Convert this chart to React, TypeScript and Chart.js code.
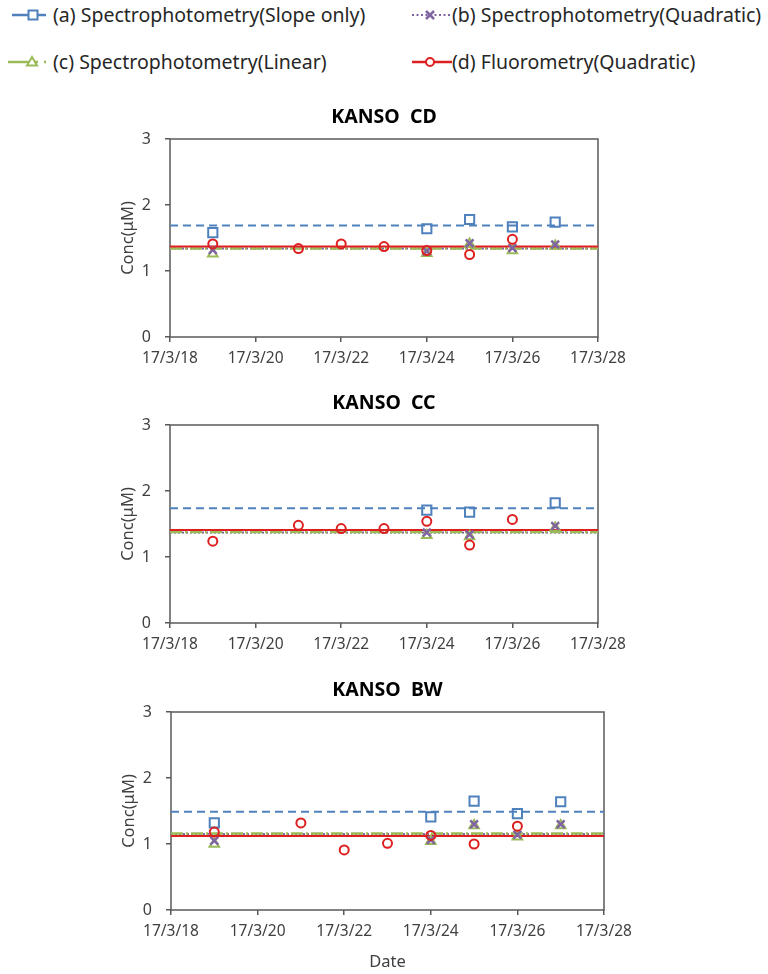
import React, { useEffect, useRef } from 'react';
import { Chart, registerables } from 'chart.js';

Chart.register(...registerables);

const FONT = "'Noto Sans', 'DejaVu Sans', sans-serif";

// ---------- data ----------
const seriesNames = [
  '(a) Spectrophotometry(Slope only)',
  '(b) Spectrophotometry(Quadratic)',
  '(c) Spectrophotometry(Linear)',
  '(d) Fluorometry(Quadratic)',
];
const panelTitles = ['KANSO  CD', 'KANSO  CC', 'KANSO  BW'];
const xMinDay = 18; // 17/3/18
const xMaxDay = 28; // 17/3/28
const xStepDays = 2;
const yMin = 0;
const yMax = 3;
const yLabel = 'Conc(μM)';
const xLabel = 'Date';

const fluoDays = [19, 21, 22, 23, 24, 25, 26];

// KANSO CD
const cdSpecDays = [19, 24, 25, 26, 27];
const cdSlope = [1.58, 1.64, 1.78, 1.67, 1.74];
const cdQuad = [1.32, 1.3, 1.42, 1.35, 1.4];
const cdLin = [1.26, 1.27, 1.41, 1.31, 1.38];
const cdFluo = [1.41, 1.34, 1.41, 1.37, 1.31, 1.25, 1.48];
const cdMeans = [1.69, 1.34, 1.34, 1.37]; // a, b, c, d

// KANSO CC
const ccSpecDays = [24, 25, 27];
const ccSlope = [1.71, 1.68, 1.82];
const ccQuad = [1.37, 1.34, 1.47];
const ccLin = [1.33, 1.31, 1.44];
const ccFluo = [1.24, 1.48, 1.43, 1.43, 1.54, 1.18, 1.57];
const ccMeans = [1.74, 1.37, 1.38, 1.41];

// KANSO BW
const bwSpecDays = [19, 24, 25, 26, 27];
const bwSlope = [1.32, 1.41, 1.65, 1.46, 1.64];
const bwQuad = [1.05, 1.06, 1.3, 1.14, 1.3];
const bwLin = [1.0, 1.04, 1.28, 1.11, 1.28];
const bwFluo = [1.18, 1.32, 0.91, 1.01, 1.13, 1.0, 1.27];
const bwMeans = [1.49, 1.15, 1.16, 1.12];

// ---------- styles ----------
const BLUE = '#4F81BD';
const PURPLE = '#8064A2';
const GREEN = '#9BBB59';
const RED = '#DD1F1F';
const AXIS = '#595959';
const TEXT = '#404040';

type PanelProps = {
  title: string;
  specDays: number[];
  slope: number[];
  quad: number[];
  lin: number[];
  fluo: number[];
  means: number[];
  left: number;
  top: number;
  width: number;
  height: number;
  xHeight: number;
  showXTitle: boolean;
};

const framePlugin = {
  id: 'frame',
  beforeDatasetsDraw(chart: any) {
    const { ctx, chartArea: a } = chart;
    ctx.save();
    ctx.strokeStyle = AXIS;
    ctx.lineWidth = 1.5;
    ctx.strokeRect(a.left, a.top, a.right - a.left, a.bottom - a.top);
    ctx.restore();
  },
};

function Panel(p: PanelProps) {
  const ref = useRef<HTMLCanvasElement>(null);
  useEffect(() => {
    if (!ref.current) return;
    const pts = (xs: number[], ys: number[]) => xs.map((x, i) => ({ x, y: ys[i] }));
    const flat = (v: number) => [
      { x: xMinDay, y: v },
      { x: xMaxDay, y: v },
    ];
    const tickFont = { family: FONT, size: 15.5 };
    const gridCfg = {
      drawOnChartArea: false,
      drawTicks: true,
      tickLength: 5,
      color: AXIS,
      lineWidth: 1.5,
    };
    const chart = new Chart(ref.current, {
      type: 'scatter',
      data: {
        datasets: [
          {
            label: seriesNames[3],
            data: pts(fluoDays, p.fluo),
            pointStyle: 'circle',
            pointRadius: 4.5,
            pointBorderColor: RED,
            pointBackgroundColor: 'rgba(255,255,255,0)',
            pointBorderWidth: 2,
          },
          {
            label: seriesNames[1],
            data: pts(p.specDays, p.quad),
            pointStyle: 'crossRot',
            pointRadius: 5.5,
            pointBorderColor: PURPLE,
            pointBorderWidth: 2.5,
          },
          {
            label: seriesNames[2],
            data: pts(p.specDays, p.lin),
            pointStyle: 'triangle',
            pointRadius: 5.5,
            pointBorderColor: GREEN,
            pointBackgroundColor: 'rgba(255,255,255,0)',
            pointBorderWidth: 2,
          },
          {
            label: seriesNames[0],
            data: pts(p.specDays, p.slope),
            pointStyle: 'rect',
            pointRadius: 6.5,
            pointBorderColor: BLUE,
            pointBackgroundColor: 'rgba(255,255,255,0)',
            pointBorderWidth: 2,
          },
          {
            label: seriesNames[3] + ' mean',
            data: flat(p.means[3]),
            showLine: true,
            pointRadius: 0,
            borderColor: RED,
            borderWidth: 2,
          },
          {
            label: seriesNames[2] + ' mean',
            data: flat(p.means[2]),
            showLine: true,
            pointRadius: 0,
            borderColor: GREEN,
            borderWidth: 2.5,
            borderDash: [12, 3, 2, 3],
          },
          {
            label: seriesNames[1] + ' mean',
            data: flat(p.means[1]),
            showLine: true,
            pointRadius: 0,
            borderColor: PURPLE,
            borderWidth: 2,
            borderDash: [2, 2],
          },
          {
            label: seriesNames[0] + ' mean',
            data: flat(p.means[0]),
            showLine: true,
            pointRadius: 0,
            borderColor: BLUE,
            borderWidth: 2,
            borderDash: [8, 5],
          },
        ],
      },
      options: {
        responsive: false,
        animation: false,
        events: [],
        layout: { padding: { left: 0, right: 40, top: 0, bottom: 0 } },
        plugins: {
          legend: { display: false },
          tooltip: { enabled: false },
          title: {
            display: true,
            text: p.title,
            fullSize: false,
            color: '#000',
            font: { family: FONT, size: 19.5, weight: 'bold' },
            padding: { top: 10.5, bottom: 10.1 },
          },
        },
        scales: {
          x: {
            type: 'linear',
            min: xMinDay,
            max: xMaxDay,
            afterFit: (s: any) => {
              s.height = p.xHeight;
            },
            ticks: {
              stepSize: xStepDays,
              autoSkip: false,
              maxRotation: 0,
              callback: (v: any) => `17/3/${v}`,
              font: tickFont,
              color: TEXT,
              padding: 7,
            },
            grid: gridCfg,
            border: { display: false },
            title: {
              display: p.showXTitle,
              text: xLabel,
              color: TEXT,
              font: { family: FONT, size: 16.5 },
              padding: { top: 0, bottom: 0 },
            },
          },
          y: {
            min: yMin,
            max: yMax,
            afterFit: (s: any) => {
              s.width = 80;
            },
            ticks: {
              stepSize: 1,
              font: { family: FONT, size: 16 },
              color: TEXT,
              padding: 14,
            },
            grid: gridCfg,
            border: { display: false },
            title: {
              display: true,
              text: yLabel,
              color: TEXT,
              font: { family: FONT, size: 16.5 },
              padding: { top: 28, bottom: 0 },
            },
          },
        },
      },
      plugins: [framePlugin],
    } as any);
    return () => chart.destroy();
  }, []);
  return (
    <canvas
      ref={ref}
      width={p.width}
      height={p.height}
      style={{ position: 'absolute', left: p.left, top: p.top, width: p.width, height: p.height }}
    />
  );
}

function LegendIcon({ kind }: { kind: number }) {
  const y = 12;
  if (kind === 0)
    return (
      <svg width={48} height={24} style={{ position: 'absolute', left: 0, top: 0 }}>
        <line x1={12} y1={y} x2={46} y2={y} stroke={BLUE} strokeWidth={2.5} />
        <rect x={28.5} y={y - 4.5} width={9} height={9} fill="#fff" stroke={BLUE} strokeWidth={2} />
      </svg>
    );
  if (kind === 1)
    return (
      <svg width={48} height={24} style={{ position: 'absolute', left: 0, top: 0 }}>
        <line x1={6} y1={y} x2={46} y2={y} stroke={PURPLE} strokeWidth={2} strokeDasharray="2 2.5" />
        <line x1={20} y1={y - 4} x2={28} y2={y + 4} stroke={PURPLE} strokeWidth={2.5} />
        <line x1={20} y1={y + 4} x2={28} y2={y - 4} stroke={PURPLE} strokeWidth={2.5} />
      </svg>
    );
  if (kind === 2)
    return (
      <svg width={48} height={24} style={{ position: 'absolute', left: 0, top: 0 }}>
        <line x1={8} y1={y} x2={38} y2={y} stroke={GREEN} strokeWidth={2.5} />
        <line x1={44} y1={y} x2={46} y2={y} stroke={GREEN} strokeWidth={2.5} />
        <polygon points={`${32},${y - 5} ${27},${y + 3.5} ${37},${y + 3.5}`} fill="#fff" stroke={GREEN} strokeWidth={2} />
      </svg>
    );
  return (
    <svg width={48} height={24} style={{ position: 'absolute', left: 0, top: 0 }}>
      <line x1={6} y1={y} x2={46} y2={y} stroke={RED} strokeWidth={2.5} />
      <circle cx={24} cy={y} r={4} fill="#fff" stroke={RED} strokeWidth={2} />
    </svg>
  );
}

function Legend() {
  const items = [
    { kind: 0, iconLeft: 0, textLeft: 53, cy: 15 },
    { kind: 1, iconLeft: 406, textLeft: 452, cy: 15 },
    { kind: 2, iconLeft: 0, textLeft: 53, cy: 62 },
    { kind: 3, iconLeft: 406, textLeft: 452, cy: 62 },
  ];
  return (
    <>
      {items.map((it) => (
        <React.Fragment key={it.kind}>
          <div style={{ position: 'absolute', left: it.iconLeft, top: it.cy - 12, width: 48, height: 24 }}>
            <LegendIcon kind={it.kind} />
          </div>
          <span
            style={{
              position: 'absolute',
              left: it.textLeft,
              top: it.cy - 13,
              height: 26,
              lineHeight: '26px',
              fontFamily: FONT,
              fontSize: 19.5,
              color: '#262626',
              whiteSpace: 'nowrap',
            }}
          >
            {seriesNames[it.kind]}
          </span>
        </React.Fragment>
      ))}
    </>
  );
}

export default function App() {
  return (
    <div style={{ position: 'absolute', left: 0, top: 0, width: 768, height: 974, background: '#fff', overflow: 'hidden' }}>
      <Legend />
      <Panel
        title={panelTitles[0]}
        specDays={cdSpecDays}
        slope={cdSlope}
        quad={cdQuad}
        lin={cdLin}
        fluo={cdFluo}
        means={cdMeans}
        left={90}
        top={95}
        width={548}
        height={272}
        xHeight={30}
        showXTitle={false}
      />
      <Panel
        title={panelTitles[1]}
        specDays={ccSpecDays}
        slope={ccSlope}
        quad={ccQuad}
        lin={ccLin}
        fluo={ccFluo}
        means={ccMeans}
        left={90}
        top={381}
        width={548}
        height={272}
        xHeight={30}
        showXTitle={false}
      />
      <Panel
        title={panelTitles[2]}
        specDays={bwSpecDays}
        slope={bwSlope}
        quad={bwQuad}
        lin={bwLin}
        fluo={bwFluo}
        means={bwMeans}
        left={91}
        top={668}
        width={553}
        height={304}
        xHeight={62}
        showXTitle={true}
      />
    </div>
  );
}
